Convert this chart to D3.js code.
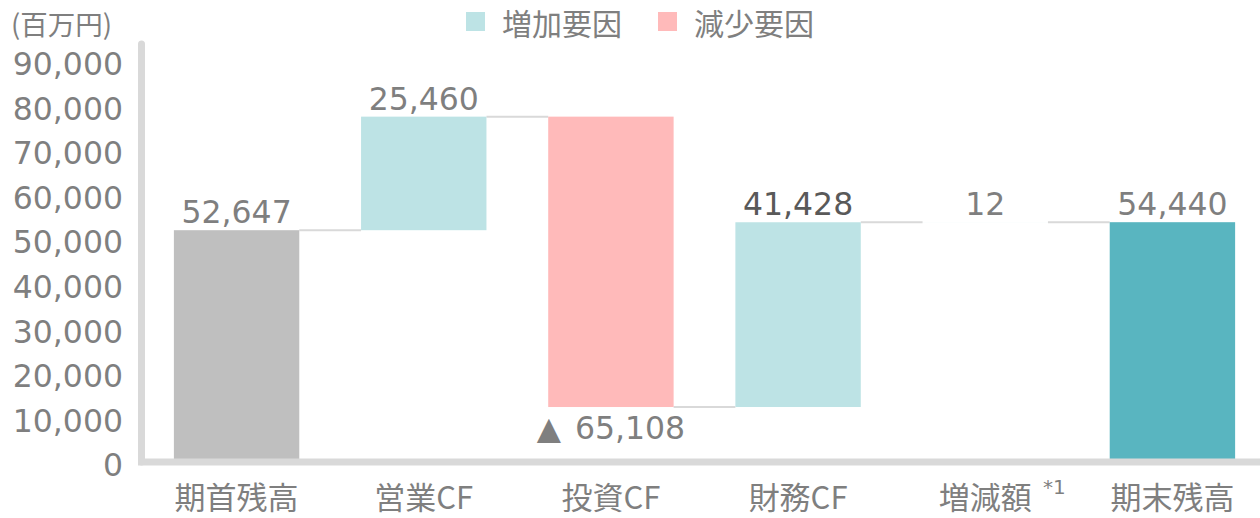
<!DOCTYPE html>
<html>
<head>
<meta charset="utf-8">
<script src="https://cdn.jsdelivr.net/npm/d3@7"></script>
<style>
  body { margin: 0; background: #fff; }
  svg { display: block; }
</style>
</head>
<body>
<div id="chart"></div>
<script>
// Chart data
const categories = ["期首残高", "営業CF", "投資CF", "財務CF", "増減額", "期末残高"];
const values = [52647, 25460, -65108, 41428, 12, 54440];
const kinds = ["start", "inc", "dec", "inc", "inc", "end"];
const yTicks = [0, 10000, 20000, 30000, 40000, 50000, 60000, 70000, 80000, 90000];
const legendItems = ["増加要因", "減少要因"];

const W = 1260, H = 518;
const numFont = "'DejaVu Sans', Verdana, sans-serif";
const jpFont = "'Noto Sans CJK JP', 'Noto Sans', sans-serif";
const colors = { start: "#bfbfbf", inc: "#bde3e5", dec: "#ffbaba", end: "#59b5c0" };
const textGrey = "#7f7f7f";
const fmt = d3.format(",");

const svg = d3.select("#chart").append("svg")
    .attr("width", W)
    .attr("height", H);

// Scales
const x = d3.scaleBand()
    .domain(categories)
    .range([143, 1266])
    .paddingInner(0.33)
    .paddingOuter(0.165);

const y = d3.scaleLinear()
    .domain([0, 90000])
    .range([465, 63.6]);

// Build waterfall segments
let running = 0;
const bars = categories.map((c, i) => {
    const v = values[i];
    let lo, hi;
    if (kinds[i] === "start" || kinds[i] === "end") {
        lo = 0; hi = v; running = v;
    } else {
        const prev = running;
        running = prev + v;
        lo = Math.min(prev, running); hi = Math.max(prev, running);
    }
    return { cat: c, value: v, kind: kinds[i], lo, hi, level: running };
});

// Connector lines between bars
const connectors = svg.append("g");
for (let i = 0; i < bars.length - 1; i++) {
    connectors.append("line")
        .attr("x1", x(bars[i].cat) + x.bandwidth())
        .attr("x2", x(bars[i + 1].cat))
        .attr("y1", y(bars[i].level))
        .attr("y2", y(bars[i].level))
        .attr("stroke", "#d9d9d9")
        .attr("stroke-width", 2);
}

// Bars
svg.append("g")
    .selectAll("rect")
    .data(bars)
    .join("rect")
        .attr("x", d => x(d.cat))
        .attr("width", x.bandwidth())
        .attr("y", d => y(d.hi))
        .attr("height", d => Math.max(0, y(d.lo) - y(d.hi)))
        .attr("fill", d => colors[d.kind]);

// Axis lines (thick light grey)
svg.append("line")
    .attr("x1", 141.5).attr("x2", 141.5)
    .attr("y1", 44).attr("y2", 462)
    .attr("stroke", "#d9d9d9")
    .attr("stroke-width", 7)
    .attr("stroke-linecap", "round");
svg.append("line")
    .attr("x1", 138).attr("x2", 1262)
    .attr("y1", 462).attr("y2", 462)
    .attr("stroke", "#d9d9d9")
    .attr("stroke-width", 7);

// Y tick labels
svg.append("g")
    .selectAll("text")
    .data(yTicks)
    .join("text")
        .attr("x", 123)
        .attr("y", d => y(d))
        .attr("dy", "0.36em")
        .attr("text-anchor", "end")
        .attr("font-family", numFont)
        .attr("font-size", 31.5)
        .attr("fill", textGrey)
        .text(d => fmt(d));

// Unit label
svg.append("text")
    .attr("x", 11).attr("y", 35)
    .attr("font-family", jpFont)
    .attr("font-size", 27.5)
    .attr("fill", textGrey)
    .text("(百万円)");

// Category labels
svg.append("g")
    .selectAll("text")
    .data(categories)
    .join("text")
        .attr("x", d => x(d) + x.bandwidth() / 2)
        .attr("y", 498)
        .attr("dy", "0.35em")
        .attr("text-anchor", "middle")
        .attr("font-family", jpFont)
        .attr("font-size", 31)
        .attr("fill", textGrey)
        .text(d => d);

// Footnote mark on 増減額
svg.append("text")
    .attr("x", 1043)
    .attr("y", 494)
    .attr("font-family", numFont)
    .attr("font-size", 20)
    .attr("fill", textGrey)
    .text("*1");

// Value labels
const valueLabels = svg.append("g")
    .selectAll("text")
    .data(bars)
    .join("text")
        .attr("x", d => x(d.cat) + x.bandwidth() / 2)
        .attr("y", d => d.kind === "dec" ? y(d.lo) + 32 : y(d.hi) - 7)
        .attr("text-anchor", "middle")
        .attr("font-family", numFont)
        .attr("font-size", 31.5)
        .attr("fill", d => d.cat === "財務CF" ? "#595959" : textGrey);

valueLabels.each(function(d) {
    const t = d3.select(this);
    if (d.kind === "dec") {
        t.append("tspan").text("▲");
        t.append("tspan").attr("dx", 14).text(fmt(-d.value));
    } else {
        t.text(fmt(d.value));
    }
});

// Legend
const legendColors = [colors.inc, colors.dec];
const legendX = [466, 658];
const legend = svg.append("g");
legendItems.forEach((t, i) => {
    legend.append("rect")
        .attr("x", legendX[i]).attr("y", 12)
        .attr("width", 19).attr("height", 19)
        .attr("fill", legendColors[i]);
    legend.append("text")
        .attr("x", legendX[i] + 36).attr("y", 34.5)
        .attr("font-family", jpFont)
        .attr("font-size", 30)
        .attr("fill", textGrey)
        .text(t);
});
</script>
</body>
</html>
